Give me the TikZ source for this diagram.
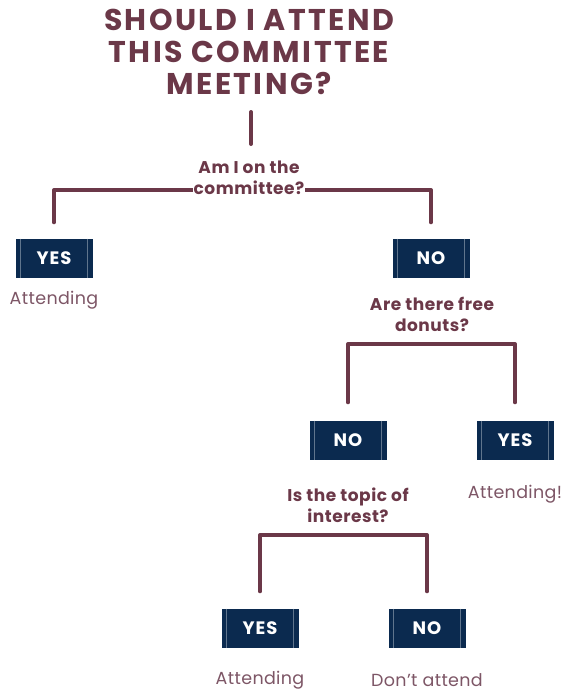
\documentclass[tikz,border=0pt]{standalone}
\usepackage{fontspec}
\setmainfont{Poppins}
\definecolor{wine}{HTML}{6B3848}
\definecolor{navy}{HTML}{0B2A4F}
\definecolor{soft}{HTML}{7D5666}
\tikzset{
  answer/.style={fill=navy, text=white, font=\fontsize{18}{20}\selectfont\bfseries\addfontfeatures{LetterSpace=5},
    minimum width=77pt, minimum height=39pt, inner sep=0pt,
    path picture={\draw[white!35!navy, line width=0.6pt]
      ([xshift=5pt]path picture bounding box.north west) -- ([xshift=5pt]path picture bounding box.south west)
      ([xshift=-5pt]path picture bounding box.north east) -- ([xshift=-5pt]path picture bounding box.south east);}},
  question/.style={text=wine, align=center, inner sep=1pt,
    font=\fontsize{17}{21}\selectfont\bfseries\addfontfeatures{LetterSpace=3}},
  outcome/.style={text=soft, font=\fontsize{17.5}{20}\selectfont\addfontfeatures{LetterSpace=2}},
  link/.style={draw=wine, line width=4pt, line cap=round, line join=round}
}
\begin{document}
\begin{tikzpicture}[x=1pt, y=-1pt]
\useasboundingbox (0,0) rectangle (562,693);

% Title
\node[text=wine, align=center, font=\fontsize{30}{32}\selectfont\bfseries\addfontfeatures{LetterSpace=8}] (title) at (249,52)
  {SHOULD I ATTEND\\THIS COMMITTEE\\MEETING?};
\coordinate (stemtop) at (251,112);

% First question
\node[question] (q1) at (249,178) {Am I on the\\committee?};
\coordinate (j1) at (251,190);
\draw[link] (stemtop) -- (251,144);

\node[answer] (yes1) at (54,258) {YES};
\node[answer] (no1) at (431,258) {NO};
\node[outcome] (out1) at (54,300) {Attending};

\draw[link] ([yshift=16pt]yes1.north) |- (j1) -| ([yshift=16pt]no1.north);
\node[question, fill=white] at (q1) {Am I on the\\committee?};

% Second question
\node[question] (q2) at (432,314) {Are there free\\donuts?};
\node[answer] (no2) at (348,440) {NO};
\node[answer] (yes2) at (515,440) {YES};
\node[outcome] (out2) at (515,494) {Attending!};
\coordinate (j2) at (431,344);
\draw[link] ([yshift=18pt]no2.north) |- (j2) -| ([yshift=18pt]yes2.north);

% Third question
\node[question] (q3) at (348,505) {Is the topic of\\interest?};
\node[answer] (yes3) at (260,628) {YES};
\node[answer] (no3) at (427,628) {NO};
\node[outcome] (out3) at (260,680) {Attending};
\node[outcome] (out4) at (427,680) {Don't attend};
\coordinate (j3) at (343,535);
\draw[link] ([yshift=17pt]yes3.north) |- (j3) -| ([yshift=17pt]no3.north);

\end{tikzpicture}
\end{document}
